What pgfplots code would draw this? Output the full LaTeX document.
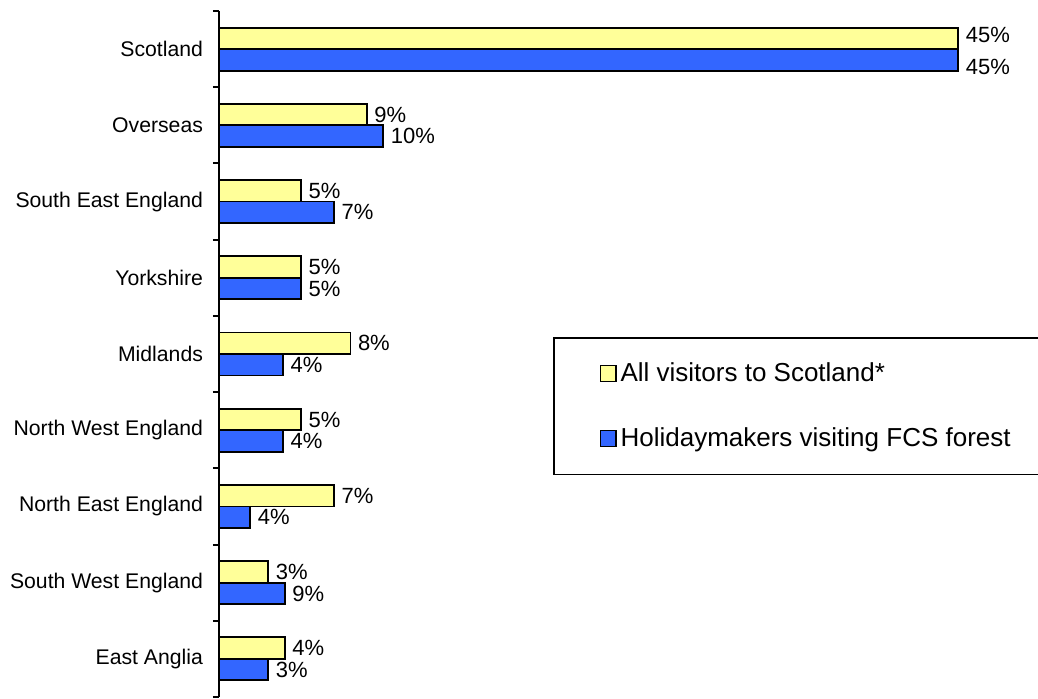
\documentclass[border=0pt]{standalone}
\usepackage{pgfplots}
\pgfplotsset{compat=1.18}
\usepackage{pgfplotstable}
\usepackage{fontspec}
\setmainfont{Liberation Sans}
\definecolor{ylw}{RGB}{255,255,153}
\definecolor{blu}{RGB}{51,102,255}

% y: 8 = Scotland ... 0 = East Anglia; x = bar length, lab = printed label
\pgfplotstableread{
y x lab
8 45 45
7 9 9
6 5 5
5 5 5
4 8 8
3 5 5
2 7 7
1 3 3
0 4 4
}\allvis
\pgfplotstableread{
y x lab
8 45 45
7 10 10
6 7 7
5 5 5
4 3.9 4
3 3.9 4
2 1.9 4
1 4 9
0 3 3
}\holiday

\begin{document}
\begin{tikzpicture}
\begin{axis}[
  at={(0pt,0pt)}, anchor=south west,
  scale only axis, width=410.75pt, height=343pt,
  xmin=0, xmax=50, ymin=-0.5, ymax=8.5,
  clip=false,
  axis y line*=left, axis x line=none,
  xtick=\empty,
  xbar, bar width=10.75pt,
  ytick={0,...,8},
  yticklabels={East Anglia,South West England,North East England,North West England,Midlands,Yorkshire,South East England,Overseas,Scotland},
  major tick length=0pt,
  minor ytick={-0.5,0.5,...,8.5},
  minor tick length=3pt,
  tick align=outside,
  axis line style={line width=1pt,black,-},
  every tick/.style={line width=1pt,black},
  yticklabel style={font=\fontsize{10.6}{12}\selectfont, xshift=-4.5pt},
  nodes near coords={\pgfplotspointmeta\%},
  point meta=explicit symbolic,
  every node near coord/.append style={font=\fontsize{11}{12}\selectfont, anchor=west, black},
  legend image code/.code={\draw[#1, line width=0.6pt] (0pt,-3.9pt) rectangle (7.8pt,3.9pt);},
  legend cell align=left,
  legend style={at={(axis description cs:0.4066,0.5248)}, anchor=north west,
    draw=black, line width=0.75pt, inner xsep=23pt, inner ysep=10.5pt, row sep=17.5pt,
    font=\fontsize{13}{15}\selectfont},
]
\addplot[fill=ylw, draw=black, line width=0.9pt, bar shift=5.375pt,
  coordinate style/.condition={\coordindex==0}{yshift=1.5pt}]
  table[x=x, y=y, meta=lab]{\allvis};
\addlegendentry{All visitors to Scotland*}
\addplot[fill=blu, draw=black, line width=0.9pt, bar shift=-5.375pt,
  coordinate style/.condition={\coordindex==0}{yshift=-3.75pt}]
  table[x=x, y=y, meta=lab]{\holiday};
\addlegendentry{Holidaymakers visiting FCS forest}
\end{axis}
\pgfresetboundingbox
\useasboundingbox (-109.5pt,-0.5pt) rectangle (409.5pt,348.5pt);
\end{tikzpicture}
\end{document}
